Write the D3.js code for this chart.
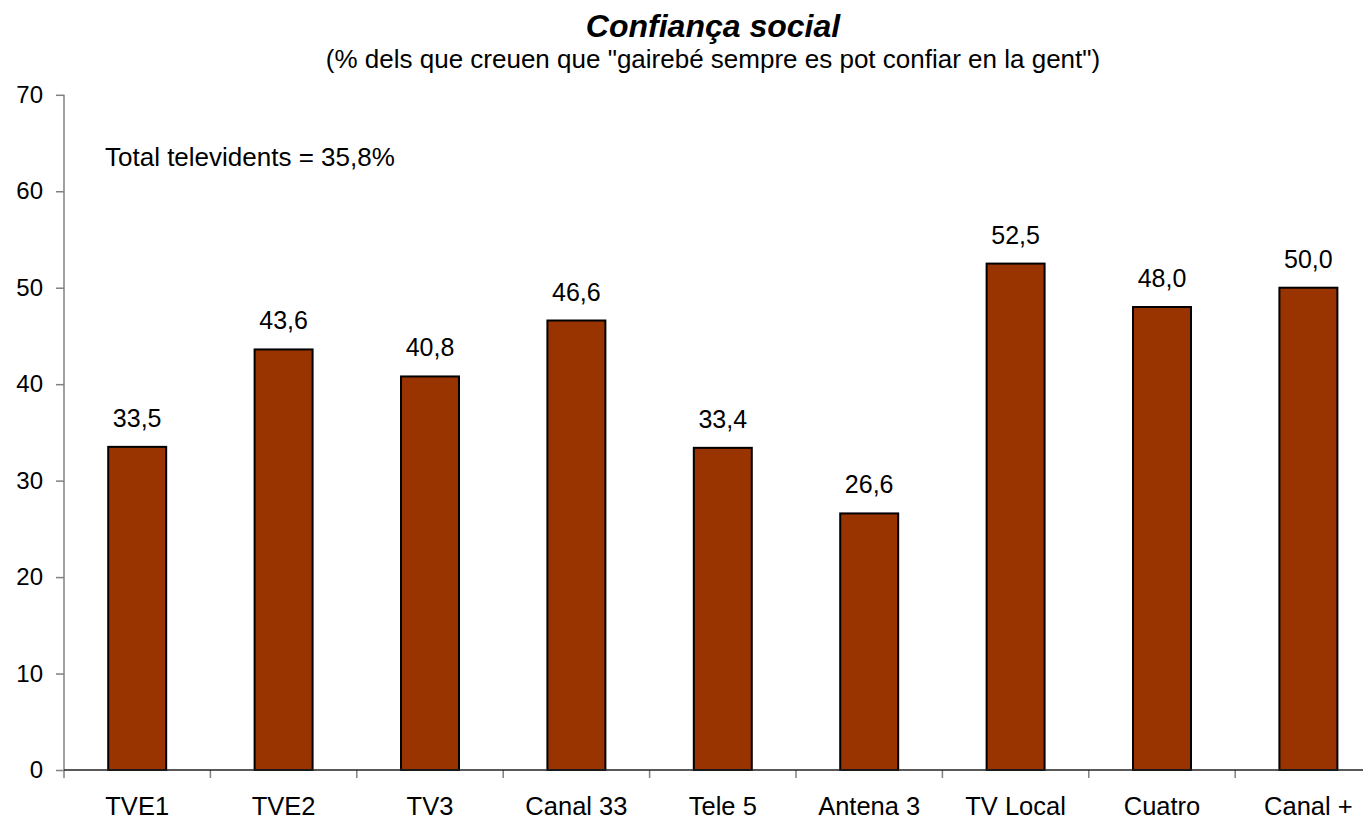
<!DOCTYPE html>
<html><head><meta charset="utf-8">
<script src="https://cdn.jsdelivr.net/npm/d3@7"></script>
<style>body{margin:0;background:#fff}svg{display:block;font-family:"Liberation Sans",Arial,sans-serif}</style>
</head><body>
<svg id="c" width="1363" height="822"></svg>
<script>
const categories = ["TVE1","TVE2","TV3","Canal 33","Tele 5","Antena 3","TV Local","Cuatro","Canal +"];
const values = [33.5,43.6,40.8,46.6,33.4,26.6,52.5,48.0,50.0];
const yTicks = [0,10,20,30,40,50,60,70];
const titleText = "Confiança social";
const subtitleText = "(% dels que creuen que \"gairebé sempre es pot confiar en la gent\")";
const noteText = "Total televidents = 35,8%";

const svg = d3.select("#c");
const x0 = 64, x1 = 64 + 146.4*9, yTop = 94.8, yBot = 770;
const x = d3.scaleBand().domain(categories).range([x0, x1]).paddingInner(0.604).paddingOuter(0.302);
const y = d3.scaleLinear().domain([0,70]).range([yBot, yTop]);
const fmt = v => d3.format(".1f")(v).replace(".", ",");

// bars
svg.append("g").selectAll("rect").data(values).join("rect")
  .attr("x", (d,i) => x(categories[i]))
  .attr("y", d => y(d))
  .attr("width", x.bandwidth())
  .attr("height", d => yBot - y(d))
  .attr("fill", "#993300").attr("stroke", "#000").attr("stroke-width", 2);

// value labels
svg.append("g").selectAll("text").data(values).join("text")
  .attr("x", (d,i) => x(categories[i]) + x.bandwidth()/2)
  .attr("y", d => y(d) - 20)
  .attr("text-anchor", "middle").attr("font-size", 25).attr("fill", "#000")
  .text(d => fmt(d));

// y axis
const yAxis = svg.append("g").attr("transform", `translate(${x0},0)`)
  .call(d3.axisLeft(y).tickValues(yTicks).tickSize(8).tickPadding(13).tickFormat(d3.format("d")));
yAxis.select(".domain").attr("stroke", "#808080").attr("stroke-width", 1.5).attr("d", `M0,${yTop}V${yBot+8}`);
yAxis.selectAll(".tick line").attr("stroke", "#808080").attr("stroke-width", 1.5);
yAxis.selectAll(".tick text").attr("font-size", 24).attr("fill", "#000").attr("font-family", "Liberation Sans, Arial, sans-serif");

// x axis
const boundaries = d3.range(1, categories.length).map(i => x0 + i*x.step());
const xg = svg.append("g");
xg.selectAll("line.t").data(boundaries).join("line").attr("class","t")
  .attr("x1", d => d).attr("x2", d => d).attr("y1", yBot).attr("y2", yBot+8)
  .attr("stroke", "#808080").attr("stroke-width", 1.5);
xg.append("line").attr("x1", x0).attr("x2", x1).attr("y1", yBot).attr("y2", yBot)
  .attr("stroke", "#222").attr("stroke-width", 1.5);
xg.selectAll("text").data(categories).join("text")
  .attr("x", d => x(d) + x.bandwidth()/2).attr("y", 815)
  .attr("text-anchor", "middle").attr("font-size", 25.5).attr("fill", "#000")
  .text(d => d);

// titles
svg.append("text").attr("x", 713).attr("y", 36.5).attr("text-anchor", "middle")
  .attr("font-size", 32).attr("font-weight", "bold").attr("font-style", "italic").text(titleText);
svg.append("text").attr("x", 713).attr("y", 68).attr("text-anchor", "middle")
  .attr("font-size", 26).text(subtitleText);
svg.append("text").attr("x", 105).attr("y", 166).attr("font-size", 26).text(noteText);
</script>
</body></html>
